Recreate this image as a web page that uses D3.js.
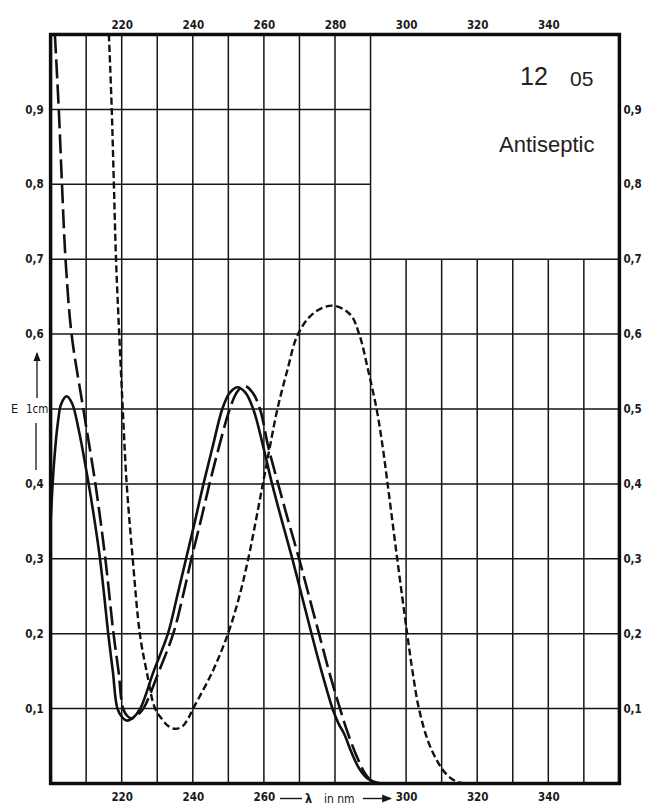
<!DOCTYPE html>
<html>
<head>
<meta charset="utf-8">
<script src="https://cdn.jsdelivr.net/npm/d3@7"></script>
<style>
  html, body { margin: 0; padding: 0; background: #fff; }
  svg { display: block; }
  .tick text { font-family: "Liberation Sans Narrow", "DejaVu Sans Condensed", "Liberation Sans", sans-serif; font-weight: bold; fill: #1a1a1a; }
</style>
</head>
<body>
<svg id="chart" width="646" height="807"></svg>
<script>
// Wavelength (nm) and extinction values for the three UV absorption curves
const solidCurve = [
  [200, 0.35], [201, 0.43], [202, 0.48], [203, 0.507], [204.5, 0.517], [206, 0.508],
  [208, 0.47], [210.7, 0.40], [212.4, 0.35], [213.9, 0.30], [215.1, 0.25], [216.2, 0.20],
  [217.5, 0.15], [218.8, 0.10], [220.2, 0.088], [221.5, 0.084], [223, 0.087], [225.2, 0.10],
  [229, 0.15], [233, 0.20], [235.6, 0.25], [238.1, 0.30], [240.6, 0.35], [243.0, 0.40],
  [245.6, 0.45], [248.3, 0.50], [250.3, 0.521], [252.5, 0.529], [254.8, 0.522], [257, 0.50],
  [259.8, 0.45], [262.3, 0.40], [265.1, 0.35], [268.0, 0.30], [270.7, 0.25],
  [273.4, 0.20], [276.2, 0.15], [279.3, 0.10], [281.0, 0.080], [282.6, 0.066], [284.6, 0.042],
  [286.8, 0.020], [289.3, 0.006], [292, 0.001], [300, 0]
];

const longDashCurve = [
  [201.2, 1.0], [202.3, 0.9], [203.2, 0.8], [204.2, 0.7], [205.9, 0.6], [209.2, 0.5],
  [212.6, 0.40], [215.4, 0.30], [217.7, 0.20], [219.1, 0.15], [220.4, 0.10], [221.6, 0.09],
  [222.9, 0.087], [224.3, 0.091], [226.1, 0.10], [230.5, 0.15], [234.5, 0.20], [237.2, 0.25],
  [239.6, 0.30], [242.2, 0.35], [244.7, 0.40], [247.4, 0.45], [250.4, 0.50], [252.5, 0.523],
  [254.5, 0.531], [256.8, 0.522], [258.9, 0.50], [261.2, 0.45], [264.0, 0.40], [266.9, 0.35],
  [269.9, 0.30], [272.7, 0.25], [275.5, 0.20], [278.3, 0.15], [281.4, 0.10], [284, 0.062],
  [286.5, 0.032], [288.5, 0.013], [290.2, 0.004], [293, 0], [300, 0]
];

const shortDashCurve = [
  [216.4, 1.0], [217.2, 0.9], [217.8, 0.8], [218.4, 0.7], [219.3, 0.6], [220.3, 0.5],
  [221.4, 0.40], [223.1, 0.30], [225.1, 0.20], [227, 0.15], [229.4, 0.10], [231.5, 0.085],
  [233, 0.077], [235, 0.073], [237, 0.076], [238.5, 0.085], [240.1, 0.10], [245.6, 0.15],
  [249.9, 0.20], [253.1, 0.25], [255.6, 0.30], [257.7, 0.35], [259.7, 0.40], [261.7, 0.45],
  [263.8, 0.50], [266.5, 0.55], [269.6, 0.60], [274, 0.628], [279.4, 0.638], [284.3, 0.626],
  [286.8, 0.60], [289.4, 0.55], [291.7, 0.50], [293.4, 0.45], [294.8, 0.40], [297.5, 0.30],
  [300.3, 0.20], [301.8, 0.15], [303.6, 0.10], [306.3, 0.055], [309, 0.028], [311.4, 0.012],
  [314, 0.003], [317, 0], [325, 0]
];

// Axis tick values and grid positions
const topWavelengthTicks = [220, 240, 260, 280, 300, 320, 340];
const bottomWavelengthTicks = [220, 240, 260, 300, 320, 340];
const leftExtinctionTicks = [0.1, 0.2, 0.3, 0.4, 0.6, 0.7, 0.8, 0.9];
const rightExtinctionTicks = [0.1, 0.2, 0.3, 0.4, 0.5, 0.6, 0.7, 0.8, 0.9];
const gridWavelengths = [210, 220, 230, 240, 250, 260, 270, 280, 290, 300, 310, 320, 330, 340, 350];
const gridExtinctions = [0.1, 0.2, 0.3, 0.4, 0.5, 0.6, 0.7, 0.8, 0.9];

const svg = d3.select("#chart");
const ink = "#161616";

const x = d3.scaleLinear().domain([200, 360]).range([50.6, 619.4]);
const y = d3.scaleLinear().domain([0, 1]).range([783.5, 34.5]);

const commaFormat = d3.formatLocale({ decimal: ",", thousands: ".", grouping: [3], currency: ["", ""] }).format(".1f");

// Clip for curves
svg.append("defs").append("clipPath").attr("id", "plot-clip")
  .append("rect")
  .attr("x", x(200)).attr("y", y(1))
  .attr("width", x(360) - x(200)).attr("height", y(0) - y(1));

// Grid: the upper right block (above 0,7 and beyond 290 nm) is left open for the title
const grid = svg.append("g").attr("stroke", ink).attr("stroke-width", 1.5);
grid.selectAll("line.v").data(gridWavelengths).join("line")
  .attr("class", "v")
  .attr("x1", d => x(d)).attr("x2", d => x(d))
  .attr("y1", y(0))
  .attr("y2", d => d <= 290 ? y(1) : y(0.7));
grid.selectAll("line.h").data(gridExtinctions).join("line")
  .attr("class", "h")
  .attr("y1", d => y(d)).attr("y2", d => y(d))
  .attr("x1", x(200))
  .attr("x2", d => d <= 0.7 ? x(360) : x(290));

// Curves
const line = d3.line()
  .x(d => x(d[0]))
  .y(d => y(d[1]))
  .curve(d3.curveCatmullRom.alpha(0.5));

const curves = svg.append("g").attr("clip-path", "url(#plot-clip)")
  .attr("fill", "none").attr("stroke", "#111").attr("stroke-linejoin", "round");

curves.append("path").datum(shortDashCurve)
  .attr("d", line).attr("stroke-width", 2.4).attr("stroke-dasharray", "7,3.5");
curves.append("path").datum(longDashCurve)
  .attr("d", line).attr("stroke-width", 2.6).attr("stroke-dasharray", "19,6");
curves.append("path").datum(solidCurve)
  .attr("d", line).attr("stroke-width", 2.6);

// Frame
svg.append("rect")
  .attr("x", x(200)).attr("y", y(1))
  .attr("width", x(360) - x(200)).attr("height", y(0) - y(1))
  .attr("fill", "none").attr("stroke", "#0d0d0d").attr("stroke-width", 3.5);

// Axes (labels only)
function styleAxis(g) {
  g.select(".domain").remove();
  g.selectAll(".tick line").remove();
  g.selectAll(".tick text").attr("font-size", 11.5);
}
svg.append("g").attr("transform", `translate(0,${y(1) - 6})`)
  .call(d3.axisTop(x).tickValues(topWavelengthTicks).tickSize(0).tickPadding(0).tickFormat(d3.format("d")))
  .call(styleAxis);
svg.append("g").attr("transform", `translate(0,${y(0) + 9})`)
  .call(d3.axisBottom(x).tickValues(bottomWavelengthTicks).tickSize(0).tickPadding(0).tickFormat(d3.format("d")))
  .call(styleAxis);
svg.append("g").attr("transform", `translate(${x(200) - 7},0)`)
  .call(d3.axisLeft(y).tickValues(leftExtinctionTicks).tickSize(0).tickPadding(0).tickFormat(commaFormat))
  .call(styleAxis);
svg.append("g").attr("transform", `translate(${x(360) + 4},0)`)
  .call(d3.axisRight(y).tickValues(rightExtinctionTicks).tickSize(0).tickPadding(0).tickFormat(commaFormat))
  .call(styleAxis);

// Axis titles
const labelFont = '"Liberation Sans Narrow", "DejaVu Sans Condensed", "Liberation Sans", sans-serif';
svg.append("defs").append("marker")
  .attr("id", "arrow").attr("viewBox", "0 0 10 10").attr("refX", 9).attr("refY", 5)
  .attr("markerWidth", 7).attr("markerHeight", 7).attr("orient", "auto")
  .append("path").attr("d", "M0,1 L10,5 L0,9 Z").attr("fill", ink);

const yLab = svg.append("g");
yLab.append("text").attr("x", 11).attr("y", y(0.5) + 4)
  .attr("font-family", labelFont).attr("font-size", 12.5).attr("fill", ink).text("E");
yLab.append("text").attr("x", 26).attr("y", y(0.5) + 4)
  .attr("font-family", labelFont).attr("font-size", 11.5).attr("fill", ink).text("1cm");
yLab.append("line").attr("x1", 37).attr("x2", 37).attr("y1", 398).attr("y2", 353)
  .attr("stroke", ink).attr("stroke-width", 1.3).attr("marker-end", "url(#arrow)");
yLab.append("line").attr("x1", 36).attr("x2", 36).attr("y1", 423).attr("y2", 470)
  .attr("stroke", ink).attr("stroke-width", 1.3);

const xLab = svg.append("g");
const xLabY = y(0) + 19;
xLab.append("line").attr("x1", 280).attr("x2", 302).attr("y1", xLabY - 4).attr("y2", xLabY - 4)
  .attr("stroke", ink).attr("stroke-width", 1.4);
xLab.append("text").attr("x", 305).attr("y", xLabY)
  .attr("font-family", labelFont).attr("font-size", 12.5).attr("font-weight", "bold").attr("fill", ink).text("λ");
xLab.append("text").attr("x", 324).attr("y", xLabY)
  .attr("font-family", labelFont).attr("font-size", 12).attr("fill", ink).text("in nm");
xLab.append("line").attr("x1", 363).attr("x2", 391).attr("y1", xLabY - 4).attr("y2", xLabY - 4)
  .attr("stroke", ink).attr("stroke-width", 1.4).attr("marker-end", "url(#arrow)");

// Title block
const titleFont = '"Liberation Sans", Arial, sans-serif';
svg.append("text").attr("x", 520).attr("y", 85)
  .attr("font-family", titleFont).attr("font-size", 25).attr("fill", "#222").text("12");
svg.append("text").attr("x", 570).attr("y", 86)
  .attr("font-family", titleFont).attr("font-size", 21).attr("fill", "#222").text("05");
svg.append("text").attr("x", 499).attr("y", 152)
  .attr("font-family", titleFont).attr("font-size", 22).attr("fill", "#222").text("Antiseptic");
</script>
</body>
</html>
